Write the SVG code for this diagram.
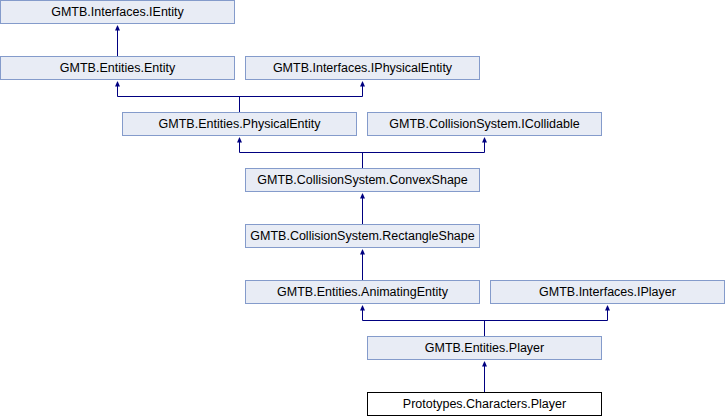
<svg xmlns="http://www.w3.org/2000/svg" width="725" height="416" viewBox="0 0 725 416">
<defs>
<style>
.box rect{fill:#E8ECF5;stroke:#849BCB;stroke-width:1}
.cur rect{fill:#FFFFFF;stroke:#000000;stroke-width:1}
text{font-family:"Liberation Sans",Arial,sans-serif;font-size:12.5px;fill:#000000;text-anchor:middle}
.edges path{fill:none;stroke:#000080;stroke-width:1}
.edges polygon{fill:#000080;stroke:none}
</style>
</defs>
<rect width="725" height="416" fill="#FFFFFF"/>
<g id="edges" class="edges">
<!-- Entity -> IEntity -->
<path d="M117.5,56 V30"/>
<polygon points="117.5,25 115,30.5 120,30.5"/>
<!-- PhysicalEntity -> Entity, IPhysicalEntity -->
<path d="M239.5,112 V96.5 M117.5,96.5 H362.5 M117.5,96.5 V86 M362.5,96.5 V86"/>
<polygon points="117.5,81 115,86.5 120,86.5"/>
<polygon points="362.5,81 360,86.5 365,86.5"/>
<!-- ConvexShape -> PhysicalEntity, ICollidable -->
<path d="M362.5,168 V152.5 M239.5,152.5 H484.5 M239.5,152.5 V142 M484.5,152.5 V142"/>
<polygon points="239.5,137 237,142.5 242,142.5"/>
<polygon points="484.5,137 482,142.5 487,142.5"/>
<!-- RectangleShape -> ConvexShape -->
<path d="M362.5,224 V198"/>
<polygon points="362.5,193 360,198.5 365,198.5"/>
<!-- AnimatingEntity -> RectangleShape -->
<path d="M362.5,280 V254"/>
<polygon points="362.5,249 360,254.5 365,254.5"/>
<!-- Player -> AnimatingEntity, IPlayer -->
<path d="M484.5,336 V320.5 M362.5,320.5 H607.5 M362.5,320.5 V310 M607.5,320.5 V310"/>
<polygon points="362.5,305 360,310.5 365,310.5"/>
<polygon points="607.5,305 605,310.5 610,310.5"/>
<!-- Prototypes.Characters.Player -> Player -->
<path d="M484.5,392 V366"/>
<polygon points="484.5,361 482,366.5 487,366.5"/>
</g>
<g id="IEntity" class="box"><rect x="0.5" y="0.5" width="234" height="23"/><text x="117.5" y="16.3">GMTB.Interfaces.IEntity</text></g>
<g id="Entity" class="box"><rect x="0.5" y="56.5" width="234" height="23"/><text x="117.5" y="72.3">GMTB.Entities.Entity</text></g>
<g id="IPhysicalEntity" class="box"><rect x="245.5" y="56.5" width="234" height="23"/><text x="362.5" y="72.3">GMTB.Interfaces.IPhysicalEntity</text></g>
<g id="PhysicalEntity" class="box"><rect x="122.5" y="112.5" width="234" height="23"/><text x="239.5" y="128.3">GMTB.Entities.PhysicalEntity</text></g>
<g id="ICollidable" class="box"><rect x="367.5" y="112.5" width="234" height="23"/><text x="484.5" y="128.3">GMTB.CollisionSystem.ICollidable</text></g>
<g id="ConvexShape" class="box"><rect x="245.5" y="168.5" width="234" height="23"/><text x="362.5" y="184.3">GMTB.CollisionSystem.ConvexShape</text></g>
<g id="RectangleShape" class="box"><rect x="245.5" y="224.5" width="234" height="23"/><text x="362.5" y="240.3">GMTB.CollisionSystem.RectangleShape</text></g>
<g id="AnimatingEntity" class="box"><rect x="245.5" y="280.5" width="234" height="23"/><text x="362.5" y="296.3">GMTB.Entities.AnimatingEntity</text></g>
<g id="IPlayer" class="box"><rect x="490.5" y="280.5" width="234" height="23"/><text x="607.5" y="296.3">GMTB.Interfaces.IPlayer</text></g>
<g id="Player" class="box"><rect x="367.5" y="336.5" width="234" height="23"/><text x="484.5" y="352.3">GMTB.Entities.Player</text></g>
<g id="PrototypesPlayer" class="cur"><rect x="367.5" y="392.5" width="234" height="23"/><text x="484.5" y="408.3">Prototypes.Characters.Player</text></g>
</svg>
